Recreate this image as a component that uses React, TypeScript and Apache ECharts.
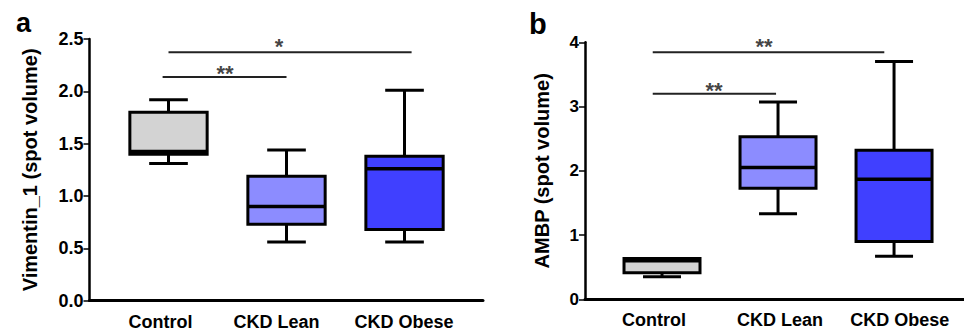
import React, { useEffect, useRef } from "react";
import * as echarts from "echarts";

// ---- data ----
const categories = ["Control", "CKD Lean", "CKD Obese"];
// [min, Q1, median, Q3, max]
const vimentinBoxes = [
  [1.31, 1.4, 1.425, 1.8, 1.92],
  [0.56, 0.73, 0.9, 1.19, 1.44],
  [0.56, 0.68, 1.26, 1.38, 2.01],
];
const ambpBoxes = [
  [0.35, 0.415, 0.6, 0.635, 0.635],
  [1.33, 1.73, 2.05, 2.53, 3.07],
  [0.67, 0.9, 1.87, 2.32, 3.7],
];
const boxColors = ["#d3d3d3", "#8c8cff", "#4040ff"];
const vimentinTicks = { min: 0, max: 2.5, interval: 0.5 };
const ambpTicks = { min: 0, max: 4, interval: 1 };
// significance brackets: [xStart, xEnd, y]
const vimentinSigLines = [
  [-0.05, 1.0, 2.137],
  [0.0, 2.06, 2.373],
];
// significance labels: [x, y, text]
const vimentinSigLabels: [number, number, string][] = [
  [0.479, 2.175, "**"],
  [0.936, 2.424, "*"],
];
const ambpSigLines = [
  [-0.08, 0.983, 3.2],
  [-0.08, 1.916, 3.844],
];
const ambpSigLabels: [number, number, string][] = [
  [0.448, 3.247, "**"],
  [0.879, 3.938, "**"],
];

// ---- layout constants ----
const FONT = "'Liberation Sans', Arial, sans-serif";
const labelPosA = [-0.068, 0.915, 1.996];
const labelPosB = [-0.069, 1.017, 2.05];
const BOX_FRAC_A = 0.655;
const BOX_FRAC_B = 0.655;

function makeRender(frac: number) {
  return (params: any, api: any) => {
    const x = api.value(0);
    const mn = api.value(1);
    const q1 = api.value(2);
    const md = api.value(3);
    const q3 = api.value(4);
    const mx = api.value(5);
    const cx = api.coord([x, mn])[0];
    const yMin = api.coord([x, mn])[1];
    const yQ1 = api.coord([x, q1])[1];
    const yMd = api.coord([x, md])[1];
    const yQ3 = api.coord([x, q3])[1];
    const yMax = api.coord([x, mx])[1];
    const unit = api.size([1, 0])[0];
    const hw = (unit * frac) / 2;
    const cap = hw / 2;
    const ls = { stroke: "#000", lineWidth: 3 };
    return {
      type: "group",
      children: [
        { type: "line", shape: { x1: cx, y1: yQ3, x2: cx, y2: yMax }, style: ls },
        { type: "line", shape: { x1: cx - cap, y1: yMax, x2: cx + cap, y2: yMax }, style: ls },
        { type: "line", shape: { x1: cx, y1: yQ1, x2: cx, y2: yMin }, style: ls },
        { type: "line", shape: { x1: cx - cap, y1: yMin, x2: cx + cap, y2: yMin }, style: ls },
        {
          type: "rect",
          shape: { x: cx - hw, y: yQ3, width: hw * 2, height: yQ1 - yQ3 },
          style: { fill: boxColors[params.dataIndex], stroke: "#000", lineWidth: 3 },
        },
        { type: "line", shape: { x1: cx - hw, y1: yMd, x2: cx + hw, y2: yMd }, style: { stroke: "#000", lineWidth: 3.5 } },
      ],
    };
  };
}

function panelAxes(
  gridIndex: number,
  xMin: number,
  xMax: number,
  labelPos: number[],
  ticks: { min: number; max: number; interval: number },
  name: string,
  nameGap: number,
  tickFont: number,
  decimals: number
) {
  const xAxis = {
    type: "value",
    gridIndex,
    min: xMin,
    max: xMax,
    axisLine: { show: true, onZero: false, lineStyle: { color: "#000", width: 3 } },
    axisTick: { show: false },
    splitLine: { show: false },
    axisLabel: {
      show: true,
      customValues: labelPos,
      margin: 12,
      color: "#000",
      fontFamily: FONT,
      fontWeight: "bold",
      fontSize: 18,
      formatter: (v: number) => {
        let best = 0;
        labelPos.forEach((p, i) => {
          if (Math.abs(p - v) < Math.abs(labelPos[best] - v)) best = i;
        });
        return categories[best];
      },
    },
  };
  const yAxis = {
    type: "value",
    gridIndex,
    min: ticks.min,
    max: ticks.max,
    interval: ticks.interval,
    name,
    nameLocation: "middle",
    nameGap,
    nameTextStyle: { color: "#000", fontFamily: FONT, fontWeight: "bold", fontSize: 20 },
    axisLine: { show: true, onZero: false, lineStyle: { color: "#000", width: 2.5 } },
    axisTick: { show: true, inside: false, length: 6, lineStyle: { color: "#000", width: 1.5 } },
    splitLine: { show: false },
    axisLabel: {
      margin: 6,
      color: "#000",
      fontFamily: FONT,
      fontWeight: "bold",
      fontSize: tickFont,
      formatter: (v: number) => v.toFixed(decimals),
    },
  };
  return { xAxis, yAxis };
}

function sigSeries(idx: number, lines: number[][], labels: [number, number, string][]) {
  const s: any[] = lines.map((l) => ({
    type: "line",
    xAxisIndex: idx,
    yAxisIndex: idx,
    data: [
      [l[0], l[2]],
      [l[1], l[2]],
    ],
    symbol: "none",
    lineStyle: { color: "#222", width: 2 },
    silent: true,
    z: 5,
  }));
  s.push({
    type: "scatter",
    xAxisIndex: idx,
    yAxisIndex: idx,
    symbolSize: 1,
    itemStyle: { color: "rgba(0,0,0,0)" },
    data: labels.map((l) => ({ value: [l[0], l[1]], label: { formatter: l[2] } })),
    label: {
      show: true,
      position: "inside",
      color: "#111",
      fontFamily: FONT,
      fontWeight: "bold",
      fontSize: 22,
    },
    silent: true,
    z: 6,
  });
  return s;
}

export default function App() {
  const ref = useRef<HTMLDivElement>(null);
  useEffect(() => {
    if (!ref.current) return;
    const chart = echarts.init(ref.current, undefined, { renderer: "svg" });
    const a = panelAxes(0, -0.6695, 2.665, labelPosA, vimentinTicks, "Vimentin_1 (spot volume)", 50, 18, 1);
    const b = panelAxes(1, -0.6638, 2.603, labelPosB, ambpTicks, "AMBP (spot volume)", 33, 17, 0);
    const option: any = {
      animation: false,
      backgroundColor: "#fff",
      grid: [
        { left: 89.5, top: 39, width: 393.5, height: 261.7 },
        { left: 585, top: 42.3, width: 379, height: 257 },
      ],
      xAxis: [a.xAxis, b.xAxis],
      yAxis: [a.yAxis, b.yAxis],
      graphic: [
        {
          type: "text",
          x: 16,
          y: 36,
          style: { text: "a", font: `bold 27px ${FONT}`, fill: "#000", textVerticalAlign: "bottom" },
        },
        {
          type: "text",
          x: 529,
          y: 38,
          style: { text: "b", font: `bold 29px ${FONT}`, fill: "#000", textVerticalAlign: "bottom" },
        },
      ],
      series: [
        {
          type: "custom",
          xAxisIndex: 0,
          yAxisIndex: 0,
          renderItem: makeRender(BOX_FRAC_A),
          encode: { x: 0, y: [1, 2, 3, 4, 5] },
          data: vimentinBoxes.map((d, i) => [i, ...d]),
          z: 3,
        },
        {
          type: "custom",
          xAxisIndex: 1,
          yAxisIndex: 1,
          renderItem: makeRender(BOX_FRAC_B),
          encode: { x: 0, y: [1, 2, 3, 4, 5] },
          data: ambpBoxes.map((d, i) => [i, ...d]),
          z: 3,
        },
        ...sigSeries(0, vimentinSigLines, vimentinSigLabels),
        ...sigSeries(1, ambpSigLines, ambpSigLabels),
      ],
    };
    chart.setOption(option);
    return () => chart.dispose();
  }, []);
  return (
    <div
      ref={ref}
      style={{ position: "fixed", left: 0, top: 0, width: 964, height: 334, background: "#fff" }}
    />
  );
}
